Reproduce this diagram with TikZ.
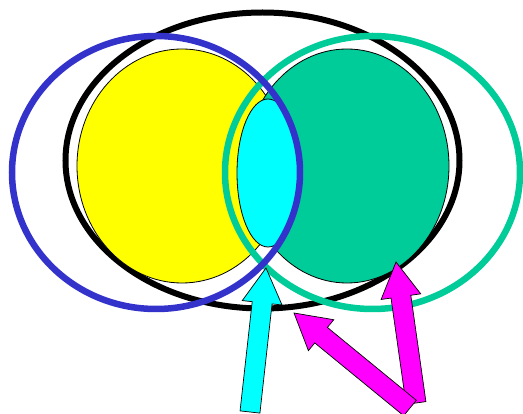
\documentclass[tikz,border=0pt]{standalone}
\usetikzlibrary{calc}
\definecolor{vgreen}{HTML}{00CC99}
\definecolor{vblue}{HTML}{3333CC}
\definecolor{vyellow}{HTML}{FFFF00}
\definecolor{vcyan}{HTML}{00FFFF}
\definecolor{vmagenta}{HTML}{FF00FF}
\tikzset{
  setfill/.style={draw=black, line width=0.8pt},
  ring/.style={line width=6.5pt},
  blockarrowstyle/.style={draw=black, line width=0.7pt, line join=miter},
}
\newcommand\mkblockarrow[3]{% fill colour, tail, tip
  \coordinate (hb) at ($(#3)!35pt!(#2)$);
  \filldraw[blockarrowstyle, fill=#1]
    ($(#2)!10pt!90:(#3)$) -- ($(hb)!10pt!90:(#3)$) -- ($(hb)!20pt!90:(#3)$) -- (#3)
    -- ($(hb)!20pt!-90:(#3)$) -- ($(hb)!10pt!-90:(#3)$) -- ($(#2)!10pt!-90:(#3)$) -- cycle;}
\begin{document}
\begin{tikzpicture}[x=1pt,y=-1pt]
\useasboundingbox (0,0) rectangle (523,414);
% outer black ellipse
\draw[line width=6pt] (262.5,160.5) ellipse [x radius=197pt, y radius=148pt];
% filled sets
\filldraw[setfill, fill=vyellow] (182,166) ellipse [x radius=105pt, y radius=117pt];
\filldraw[setfill, fill=vgreen] (347,166) ellipse [x radius=102pt, y radius=117pt];
\filldraw[setfill, fill=vcyan] (268,173) ellipse [x radius=31pt, y radius=74pt];
% rings
\draw[ring, vgreen] (372.5,172.5) ellipse [x radius=147.5pt, y radius=136.5pt];
\draw[ring, vblue] (156,172.5) ellipse [x radius=144pt, y radius=136.5pt];
% arrows
\coordinate (ctail) at (250,412);
\coordinate (ctip) at (266,268);
\coordinate (vtail) at (416,403);
\coordinate (vtip) at (396,262);
\coordinate (dtail) at (410,408);
\coordinate (dtip) at (294,313);
\mkblockarrow{vcyan}{ctail}{ctip}
\mkblockarrow{vmagenta}{vtail}{vtip}
\mkblockarrow{vmagenta}{dtail}{dtip}
\end{tikzpicture}
\end{document}
